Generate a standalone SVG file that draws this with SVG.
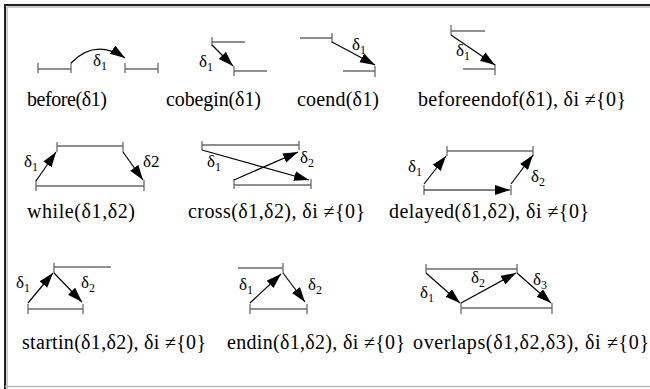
<svg xmlns="http://www.w3.org/2000/svg" width="650" height="389" viewBox="0 0 650 389" font-family="'Liberation Serif', 'DejaVu Serif', 'Times New Roman', serif">
<defs>
<marker id="ah" markerWidth="16" markerHeight="11" refX="15" refY="5" orient="auto" markerUnits="userSpaceOnUse">
<path d="M0,0 L15,5 L0,10 z" fill="#000"/>
</marker>
<style>
.iv{stroke:#6a6a6a;stroke-width:1.3;fill:none}
.ar{stroke:#000;stroke-width:1.2;fill:none;marker-end:url(#ah)}
text{font-family:'Liberation Serif','DejaVu Serif','Times New Roman',serif;fill:#000}
.lb{font-size:20px}
.d{font-size:17px}
.s{font-size:12px}
</style>
</defs>
<rect x="0" y="0" width="650" height="389" fill="#fff"/>
<g id="frame">
<path d="M5,389 V5 H650" stroke="#222" stroke-width="2" fill="none"/>
<path d="M7,389 V7 H650" stroke="#999" stroke-width="1" fill="none"/>
<line x1="5" y1="386.5" x2="650" y2="386.5" stroke="#bbb" stroke-width="1.5"/>
</g>

<g id="before">
<path class="iv" d="M38,69 H71 M38,63 V73 M71,63 V73 M125,69 H158 M125,63 V73 M158,63 V73"/>
<path class="ar" d="M71,63 Q95,38 125,58"/>
<text class="d" x="93" y="66">δ<tspan class="s" dy="4">1</tspan></text>
<text class="lb" x="27" y="106" textLength="80">before(δ1)</text>
</g>

<g id="cobegin">
<path class="iv" d="M212,42 H245 M212,37 V46 M234,71 H267 M234,66 V76"/>
<path class="ar" d="M212,45 L233,66"/>
<text class="d" x="199" y="67">δ<tspan class="s" dy="4">1</tspan></text>
<text class="lb" x="166" y="106" textLength="95">cobegin(δ1)</text>
</g>

<g id="coend">
<path class="iv" d="M300,38 H332 M332,33 V43 M343,71 H375 M375,66 V77"/>
<path class="ar" d="M332,42 L375,65"/>
<text class="d" x="352" y="50">δ<tspan class="s" dy="4">1</tspan></text>
<text class="lb" x="297" y="106" textLength="82">coend(δ1)</text>
</g>

<g id="beforeendof">
<path class="iv" d="M451,31 H485 M451,25 V35 M463,69 H495 M495,64 V75"/>
<path class="ar" d="M451,35 L495,65"/>
<text class="d" x="456" y="56">δ<tspan class="s" dy="4">1</tspan></text>
<text class="lb" x="418" y="106" textLength="208">beforeendof(δ1), δi ≠{0}</text>
</g>

<g id="while">
<path class="iv" d="M57,146 H123 M57,142 V152 M123,142 V152 M36,186 H144 M36,180 V191 M144,180 V191"/>
<path class="ar" d="M36,181 L56,152"/>
<path class="ar" d="M123,152 L143,180"/>
<text class="d" x="24" y="167">δ<tspan class="s" dy="4">1</tspan></text>
<text class="d" x="143" y="167">δ2</text>
<text class="lb" x="27" y="218" textLength="108">while(δ1,δ2)</text>
</g>

<g id="cross">
<path class="iv" d="M202,145 H299 M202,141 V150 M299,141 V150 M234,185 H311 M234,179 V189 M311,179 V189"/>
<path class="ar" d="M202,150 L309,180"/>
<path class="ar" d="M234,180 L298,152"/>
<text class="d" x="207" y="167">δ<tspan class="s" dy="4">1</tspan></text>
<text class="d" x="300" y="163">δ<tspan class="s" dy="4">2</tspan></text>
<text class="lb" x="188" y="218" textLength="177">cross(δ1,δ2), δi ≠{0}</text>
</g>

<g id="delayed">
<path class="iv" d="M447,151 H533 M447,146 V156 M533,146 V156 M424,185 V195 M511,185 V195"/>
<path class="ar" d="M424,190 L510,190"/>
<path class="ar" d="M424,184 L446,156"/>
<path class="ar" d="M511,184 L533,155"/>
<text class="d" x="408" y="172">δ<tspan class="s" dy="4">1</tspan></text>
<text class="d" x="531" y="182">δ<tspan class="s" dy="4">2</tspan></text>
<text class="lb" x="389" y="218" textLength="200">delayed(δ1,δ2), δi ≠{0}</text>
</g>

<g id="startin">
<path class="iv" d="M54,267 H111 M54,263 V273 M28,309 H83 M28,304 V314 M83,304 V314"/>
<path class="ar" d="M28,303 L53,273"/>
<path class="ar" d="M54,273 L82,302"/>
<text class="d" x="16" y="288">δ<tspan class="s" dy="4">1</tspan></text>
<text class="d" x="81" y="288">δ<tspan class="s" dy="4">2</tspan></text>
<text class="lb" x="22" y="349" textLength="184">startin(δ1,δ2), δi ≠{0}</text>
</g>

<g id="endin">
<path class="iv" d="M238,268 H283 M283,263 V273 M250,309 H307 M250,304 V314 M307,304 V314"/>
<path class="ar" d="M250,303 L281,274"/>
<path class="ar" d="M283,273 L305,302"/>
<text class="d" x="239" y="290">δ<tspan class="s" dy="4">1</tspan></text>
<text class="d" x="308" y="290">δ<tspan class="s" dy="4">2</tspan></text>
<text class="lb" x="227" y="349" textLength="178">endin(δ1,δ2), δi ≠{0}</text>
</g>

<g id="overlaps">
<path class="iv" d="M426,269 H517 M426,264 V273 M517,264 V273 M461,308 H552 M461,303 V314 M552,303 V314"/>
<path class="ar" d="M426,273 L460,303"/>
<path class="ar" d="M461,303 L516,273"/>
<path class="ar" d="M517,273 L551,303"/>
<text class="d" x="420" y="298">δ<tspan class="s" dy="4">1</tspan></text>
<text class="d" x="471" y="283">δ<tspan class="s" dy="4">2</tspan></text>
<text class="d" x="533" y="285">δ<tspan class="s" dy="4">3</tspan></text>
<text class="lb" x="413" y="349" textLength="236">overlaps(δ1,δ2,δ3), δi ≠{0}</text>
</g>
</svg>
